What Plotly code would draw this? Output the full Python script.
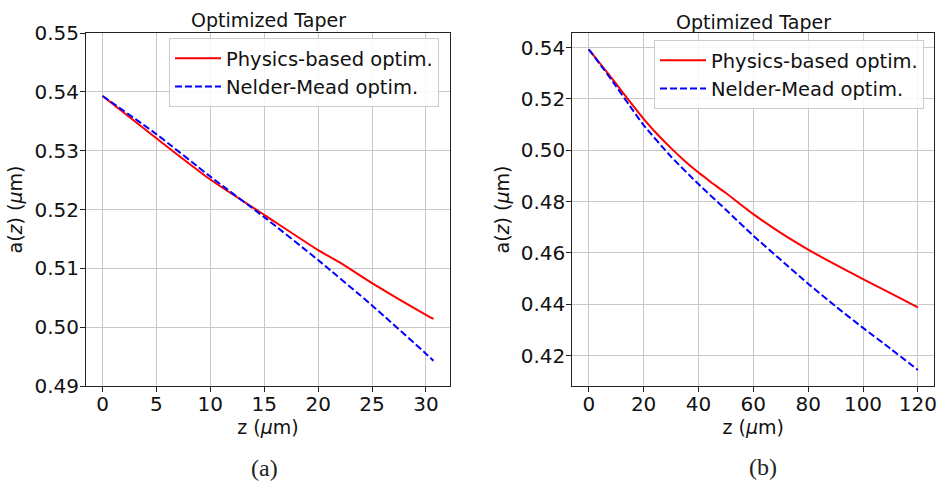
import plotly.graph_objects as go

# ---------------- data ----------------
# (a) short taper
z_a = [0, 5, 10, 15, 20, 22, 25, 30, 30.7]
phys_a = [0.5393, 0.5321, 0.5251, 0.5191, 0.5131, 0.5110, 0.5075, 0.5021, 0.5014]
z_a_nm = [0, 5, 10, 15, 20, 25, 30, 30.7]
nm_a = [0.5393, 0.5328, 0.5256, 0.5187, 0.5114, 0.5037, 0.4955, 0.4943]

# (b) long taper
z_b = [0, 5, 10, 15, 20, 25, 30, 35, 40, 42.5, 44, 50, 60, 70, 80, 90, 100, 110, 120]
phys_b = [0.5393, 0.5326, 0.5258, 0.5189, 0.5122, 0.5062, 0.5008, 0.4958,
          0.4913, 0.4893, 0.4880, 0.4833, 0.4751, 0.4678, 0.4613, 0.4554,
          0.4498, 0.4443, 0.4388]
z_b_nm = [0, 5, 10, 15, 20, 30, 40, 50, 60, 70, 80, 90, 100, 110, 120]
nm_b = [0.5393, 0.5322, 0.5248, 0.5172, 0.5098, 0.4975, 0.4868, 0.4768,
        0.4667, 0.4573, 0.4480, 0.4392, 0.4308, 0.4227, 0.4144]

titles = ["Optimized Taper", "Optimized Taper"]
names = ["Physics-based optim.", "Nelder-Mead optim."]
captions = ["(a)", "(b)"]

W, H = 938, 482
FONT = "DejaVu Sans"
RED = "#ff0000"
BLUE = "#0000ff"


def px(x):
    return x / W


def py(y):
    return 1 - y / H


fig = go.Figure()

# left panel
fig.add_trace(go.Scatter(x=z_a, y=phys_a, mode="lines", name=names[0],
                         line=dict(color=RED, width=2, shape="spline", smoothing=0.6),
                         xaxis="x", yaxis="y", legend="legend"))
fig.add_trace(go.Scatter(x=z_a_nm, y=nm_a, mode="lines", name=names[1],
                         line=dict(color=BLUE, width=2, dash="7px,3px",
                                   shape="spline", smoothing=0.6),
                         xaxis="x", yaxis="y", legend="legend"))
# right panel
fig.add_trace(go.Scatter(x=z_b, y=phys_b, mode="lines", name=names[0],
                         line=dict(color=RED, width=2, shape="spline", smoothing=0.6),
                         xaxis="x2", yaxis="y2", legend="legend2"))
fig.add_trace(go.Scatter(x=z_b_nm, y=nm_b, mode="lines", name=names[1],
                         line=dict(color=BLUE, width=2, dash="7px,3px",
                                   shape="spline", smoothing=0.6),
                         xaxis="x2", yaxis="y2", legend="legend2"))

y_dom = [py(386), py(33)]

common_axis = dict(
    showline=True, linecolor="#222222", linewidth=1, mirror=True,
    ticks="outside", ticklen=5, tickcolor="#222222",
    showgrid=True, gridcolor="#c8c8c8", gridwidth=1,
    zeroline=False, automargin=False,
    tickfont=dict(family=FONT, size=20, color="#111111"),
    title_font=dict(family=FONT, size=19, color="#111111"),
)

xlab = "z (<i>μ</i>m)"
ylab = "a(<i>z</i>) (<i>μ</i>m)"

legend_common = dict(
    xanchor="right", yanchor="top",
    bgcolor="rgba(255,255,255,0.85)", bordercolor="#cccccc",
    borderwidth=1, font=dict(family=FONT, size=19.5, color="#111111"),
    itemwidth=46, tracegroupgap=0,
)

fig.update_layout(
    width=W, height=H, autosize=False,
    margin=dict(l=0, r=0, t=0, b=0, pad=0),
    paper_bgcolor="white", plot_bgcolor="white",
    font=dict(family=FONT, color="#111111"),
    xaxis=dict(domain=[px(86), px(450)], anchor="y", range=[-1.535, 32.235],
               tick0=0, dtick=5, ticklabelstandoff=-5,
               title=dict(text=xlab, standoff=2), **common_axis),
    yaxis=dict(domain=y_dom, anchor="x", range=[0.49, 0.55],
               tick0=0.49, dtick=0.01, tickformat=".2f", ticklabelstandoff=-3,
               title=dict(text=ylab, standoff=6), **common_axis),
    xaxis2=dict(domain=[px(572.3), px(934.3)], anchor="y2", range=[-6, 126],
                tick0=0, dtick=20, ticklabelstandoff=-5,
                title=dict(text=xlab, standoff=2), **common_axis),
    yaxis2=dict(domain=y_dom, anchor="x2", range=[0.40815, 0.54565],
                tick0=0.40, dtick=0.02, tickformat=".2f", ticklabelstandoff=-3,
                title=dict(text=ylab, standoff=6), **common_axis),
    legend=dict(x=px(439), y=py(38), **legend_common),
    legend2=dict(x=px(924), y=py(40), **legend_common),
    showlegend=True,
)

annotations = [
    dict(text=titles[0], x=px(268), y=py(20), xref="paper", yref="paper",
         showarrow=False, xanchor="center", yanchor="middle",
         font=dict(family=FONT, size=19, color="#111111")),
    dict(text=titles[1], x=px(753), y=py(22), xref="paper", yref="paper",
         showarrow=False, xanchor="center", yanchor="middle",
         font=dict(family=FONT, size=19, color="#111111")),
    dict(text=captions[0], x=px(264), y=py(468), xref="paper", yref="paper",
         showarrow=False, xanchor="center", yanchor="middle",
         font=dict(family="Liberation Serif", size=24, color="#222222")),
    dict(text=captions[1], x=px(763), y=py(467), xref="paper", yref="paper",
         showarrow=False, xanchor="center", yanchor="middle",
         font=dict(family="Liberation Serif", size=24, color="#222222")),
]
fig.update_layout(annotations=annotations)

fig.write_html("out.html")
